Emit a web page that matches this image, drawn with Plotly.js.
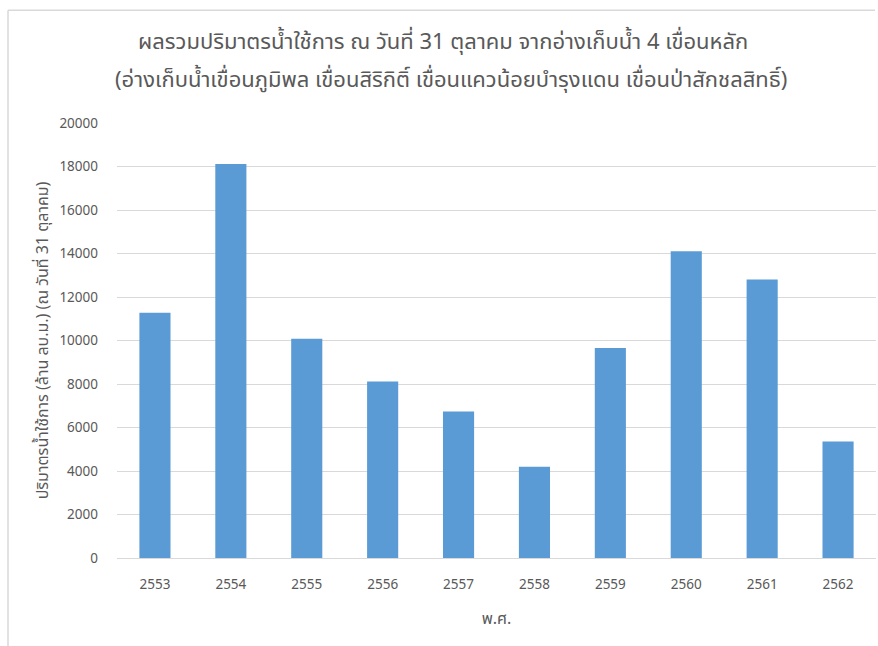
<!DOCTYPE html>
<html>
<head>
<meta charset="utf-8">
<script src="https://cdn.plot.ly/plotly-3.0.1.min.js"></script>
<style>
html, body { margin: 0; padding: 0; background: #ffffff; }
#chart { width: 878px; height: 646px; }
</style>
</head>
<body>
<div id="chart"></div>
<script>
var years = ['2553', '2554', '2555', '2556', '2557', '2558', '2559', '2560', '2561', '2562'];
var waterUse = [11280, 18120, 10080, 8120, 6740, 4200, 9660, 14100, 12800, 5360];
var yTicks = [0, 2000, 4000, 6000, 8000, 10000, 12000, 14000, 16000, 18000, 20000];

var titleLine1 = 'ผลรวมปริมาตรน้ำใช้การ ณ วันที่ 31 ตุลาคม จากอ่างเก็บน้ำ 4 เขื่อนหลัก';
var titleLine2 = '(อ่างเก็บน้ำเขื่อนภูมิพล เขื่อนสิริกิติ์ เขื่อนแควน้อยบำรุงแดน เขื่อนป่าสักชลสิทธิ์)';
var xTitle = 'พ.ศ.';
var yTitle = 'ปริมาตรน้ำใช้การ (ล้าน ลบ.ม.) (ณ วันที่ 31 ตุลาคม)';

var fontFam = '"Noto Sans Thai", "Noto Sans", "DejaVu Sans", sans-serif';
var gray = '#595959';

var trace = {
  type: 'bar',
  x: years,
  y: waterUse,
  marker: { color: '#5B9BD5', line: { width: 0 } },
  hoverinfo: 'x+y'
};

var plotL = 117, plotR = 876, plotT = 123, plotB = 558.5;
function py(pix) { return (plotB - pix) / (plotB - plotT); }
function px(pix) { return (pix - plotL) / (plotR - plotL); }

var layout = {
  width: 878,
  height: 646,
  margin: { l: plotL, r: 878 - plotR, t: plotT, b: 646 - plotB },
  paper_bgcolor: '#ffffff',
  plot_bgcolor: '#ffffff',
  bargap: 0.59,
  showlegend: false,
  font: { family: fontFam, color: gray, size: 13 },
  xaxis: {
    type: 'category',
    showgrid: false,
    showline: true,
    linecolor: '#d9d9d9',
    linewidth: 1,
    ticks: '',
    tickfont: { family: fontFam, size: 13.5, color: gray },
    ticklabelstandoff: 14,
    title: { text: xTitle, font: { family: fontFam, size: 16, color: gray }, standoff: 18 }
  },
  yaxis: {
    range: [0, 20000],
    tickvals: yTicks,
    ticktext: yTicks.map(String),
    showgrid: true,
    gridcolor: '#d9d9d9',
    gridwidth: 1,
    zeroline: false,
    showline: false,
    ticks: '',
    tickfont: { family: fontFam, size: 13.5, color: gray },
    ticklabelstandoff: 18,
    title: { text: yTitle, font: { family: fontFam, size: 16, color: gray }, standoff: 6 }
  },
  annotations: [
    { text: titleLine1, xref: 'paper', yref: 'paper', x: px(443), y: py(42), xanchor: 'center', yanchor: 'middle', showarrow: false, font: { family: fontFam, size: 22, color: gray } },
    { text: titleLine2, xref: 'paper', yref: 'paper', x: px(451), y: py(80), xanchor: 'center', yanchor: 'middle', showarrow: false, font: { family: fontFam, size: 22, color: gray } }
  ],
  shapes: [
    { type: 'line', xref: 'paper', yref: 'paper', x0: px(8), x1: px(8), y0: py(10), y1: py(660), line: { color: '#d9d9d9', width: 1.5 } },
    { type: 'line', xref: 'paper', yref: 'paper', x0: px(8), x1: px(875), y0: py(10), y1: py(10), line: { color: '#d9d9d9', width: 1.5 } }
  ]
};

Plotly.newPlot('chart', [trace], layout, { displayModeBar: false, staticPlot: true });
</script>
</body>
</html>
